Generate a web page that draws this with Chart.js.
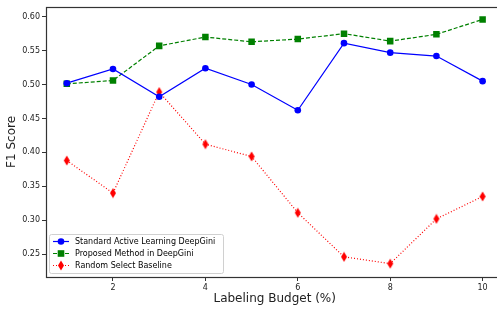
<!DOCTYPE html>
<html>
<head>
<meta charset="utf-8">
<script src="https://cdn.jsdelivr.net/npm/chart.js@4.4.0/dist/chart.umd.min.js"></script>
<style>
  html, body { margin: 0; padding: 0; background: #fff; overflow: hidden; }
  #wrap { width: 497px; height: 311px; overflow: hidden; }
  #inner { width: 508px; height: 311px; position: relative; }
</style>
</head>
<body>
<div id="wrap"><div id="inner"><canvas id="f1Chart"></canvas></div></div>
<script>
// dados
const budgets = [1, 2, 3, 4, 5, 6, 7, 8, 9, 10];
const standardAL = [0.502, 0.523, 0.482, 0.524, 0.500, 0.462, 0.561, 0.547, 0.542, 0.505];
const proposed = [0.501, 0.506, 0.557, 0.570, 0.563, 0.567, 0.575, 0.564, 0.574, 0.596];
const randomBase = [0.388, 0.340, 0.489, 0.412, 0.394, 0.311, 0.246, 0.236, 0.302, 0.335];
const xTicks = [2, 4, 6, 8, 10];
const yTicks = [0.25, 0.30, 0.35, 0.40, 0.45, 0.50, 0.55, 0.60];
const seriesNames = ['Standard Active Learning DeepGini', 'Proposed Method in DeepGini', 'Random Select Baseline'];

const FONT = 'DejaVu Sans';

// losango fino (estilo 'd' do matplotlib)
function thinDiamond(color) {
    const c = document.createElement('canvas');
    c.width = 8; c.height = 11;
    const g = c.getContext('2d');
    g.fillStyle = color;
    g.beginPath();
    g.moveTo(4, 0.5); g.lineTo(7, 5.5); g.lineTo(4, 10.5); g.lineTo(1, 5.5);
    g.closePath();
    g.fill();
    return c;
}
const diamond = thinDiamond('#ff0000');

function toPoints(arr) {
    return arr.map((v, i) => ({ x: budgets[i], y: v }));
}

// moldura completa à volta da área do gráfico
const framePlugin = {
    id: 'frame',
    afterDraw(chart) {
        const a = chart.chartArea, ctx = chart.ctx;
        ctx.save();
        ctx.strokeStyle = '#333';
        ctx.lineWidth = 1.2;
        ctx.strokeRect(Math.round(a.left) + 0.5, Math.round(a.top) + 0.5, Math.round(a.right - a.left), Math.round(a.bottom - a.top));
        ctx.restore();
    }
};

// legenda dentro do gráfico, canto inferior esquerdo
const insideLegend = {
    id: 'insideLegend',
    afterDraw(chart) {
        const a = chart.chartArea, ctx = chart.ctx;
        const x0 = a.left + 3, y0 = a.bottom - 43, w = 174, h = 39;
        ctx.save();
        ctx.fillStyle = 'rgba(255,255,255,0.8)';
        ctx.strokeStyle = '#d0d0d0';
        ctx.lineWidth = 1;
        ctx.beginPath();
        ctx.roundRect(x0 + 0.5, y0 + 0.5, w, h, 2);
        ctx.fill();
        ctx.stroke();
        ctx.font = '8px "' + FONT + '"';
        ctx.textBaseline = 'middle';
        chart.data.datasets.forEach((ds, i) => {
            const yy = y0 + 7.5 + i * 12;
            ctx.strokeStyle = ds.borderColor;
            ctx.lineWidth = 1.2;
            ctx.setLineDash(ds.borderDash || []);
            ctx.beginPath();
            ctx.moveTo(x0 + 4, yy); ctx.lineTo(x0 + 20, yy);
            ctx.stroke();
            ctx.setLineDash([]);
            ctx.fillStyle = ds.pointBackgroundColor;
            const cx = x0 + 12;
            if (i === 0) {
                ctx.beginPath(); ctx.arc(cx, yy, 3.3, 0, Math.PI * 2); ctx.fill();
            } else if (i === 1) {
                ctx.fillRect(cx - 3.3, yy - 3.3, 6.6, 6.6);
            } else {
                ctx.drawImage(diamond, cx - 4, yy - 5.5);
            }
            ctx.fillStyle = '#000';
            ctx.fillText(ds.label, x0 + 26, yy + 0.5);
        });
        ctx.restore();
    }
};

function initializeChart() {
    const canvas = document.getElementById('f1Chart');
    new Chart(canvas.getContext('2d'), {
        type: 'line',
        data: {
            datasets: [{
                label: seriesNames[0],
                data: toPoints(standardAL),
                borderColor: '#0000ff',
                backgroundColor: '#0000ff',
                pointBackgroundColor: '#0000ff',
                borderWidth: 1.2,
                pointStyle: 'circle',
                pointRadius: 3.3,
                pointBorderWidth: 0
            }, {
                label: seriesNames[1],
                data: toPoints(proposed),
                borderColor: '#008000',
                backgroundColor: '#008000',
                pointBackgroundColor: '#008000',
                borderWidth: 1.2,
                borderDash: [4, 2],
                pointStyle: 'rect',
                pointRadius: 4.6,
                pointBorderWidth: 0
            }, {
                label: seriesNames[2],
                data: toPoints(randomBase),
                borderColor: '#ff0000',
                backgroundColor: '#ff0000',
                pointBackgroundColor: '#ff0000',
                borderWidth: 1.2,
                borderDash: [1, 2],
                pointStyle: diamond,
                pointRadius: 4,
                pointBorderWidth: 0
            }]
        },
        options: {
            responsive: true,
            maintainAspectRatio: false,
            animation: false,
            layout: { padding: { top: 5, right: 0, left: 0, bottom: 0 } },
            plugins: {
                legend: { display: false },
                tooltip: { enabled: false }
            },
            scales: {
                x: {
                    type: 'linear',
                    min: 0.55,
                    max: 10.45,
                    afterBuildTicks: s => { s.ticks = xTicks.map(v => ({ value: v })); },
                    afterFit: s => { s.height = 34; },
                    grid: { drawOnChartArea: false, tickLength: 4, color: '#333' },
                    border: { display: false },
                    ticks: { color: '#222', font: { family: FONT, size: 8 }, padding: 2, maxRotation: 0 },
                    title: { display: true, text: 'Labeling Budget (%)', color: '#222', font: { family: FONT, size: 12 }, padding: { top: 2, bottom: 5 } }
                },
                y: {
                    min: 0.2163,
                    max: 0.6146,
                    afterBuildTicks: s => { s.ticks = yTicks.map(v => ({ value: v })); },
                    afterFit: s => { s.width = 46; },
                    grid: { drawOnChartArea: false, tickLength: 4, color: '#333' },
                    border: { display: false },
                    ticks: { color: '#222', font: { family: FONT, size: 8 }, padding: 2, callback: v => v.toFixed(2) },
                    title: { display: true, text: 'F1 Score', color: '#222', font: { family: FONT, size: 12 }, padding: { top: 5, bottom: 0 } }
                }
            }
        },
        plugins: [framePlugin, insideLegend]
    });
}

document.addEventListener('DOMContentLoaded', initializeChart);
</script>
</body>
</html>
